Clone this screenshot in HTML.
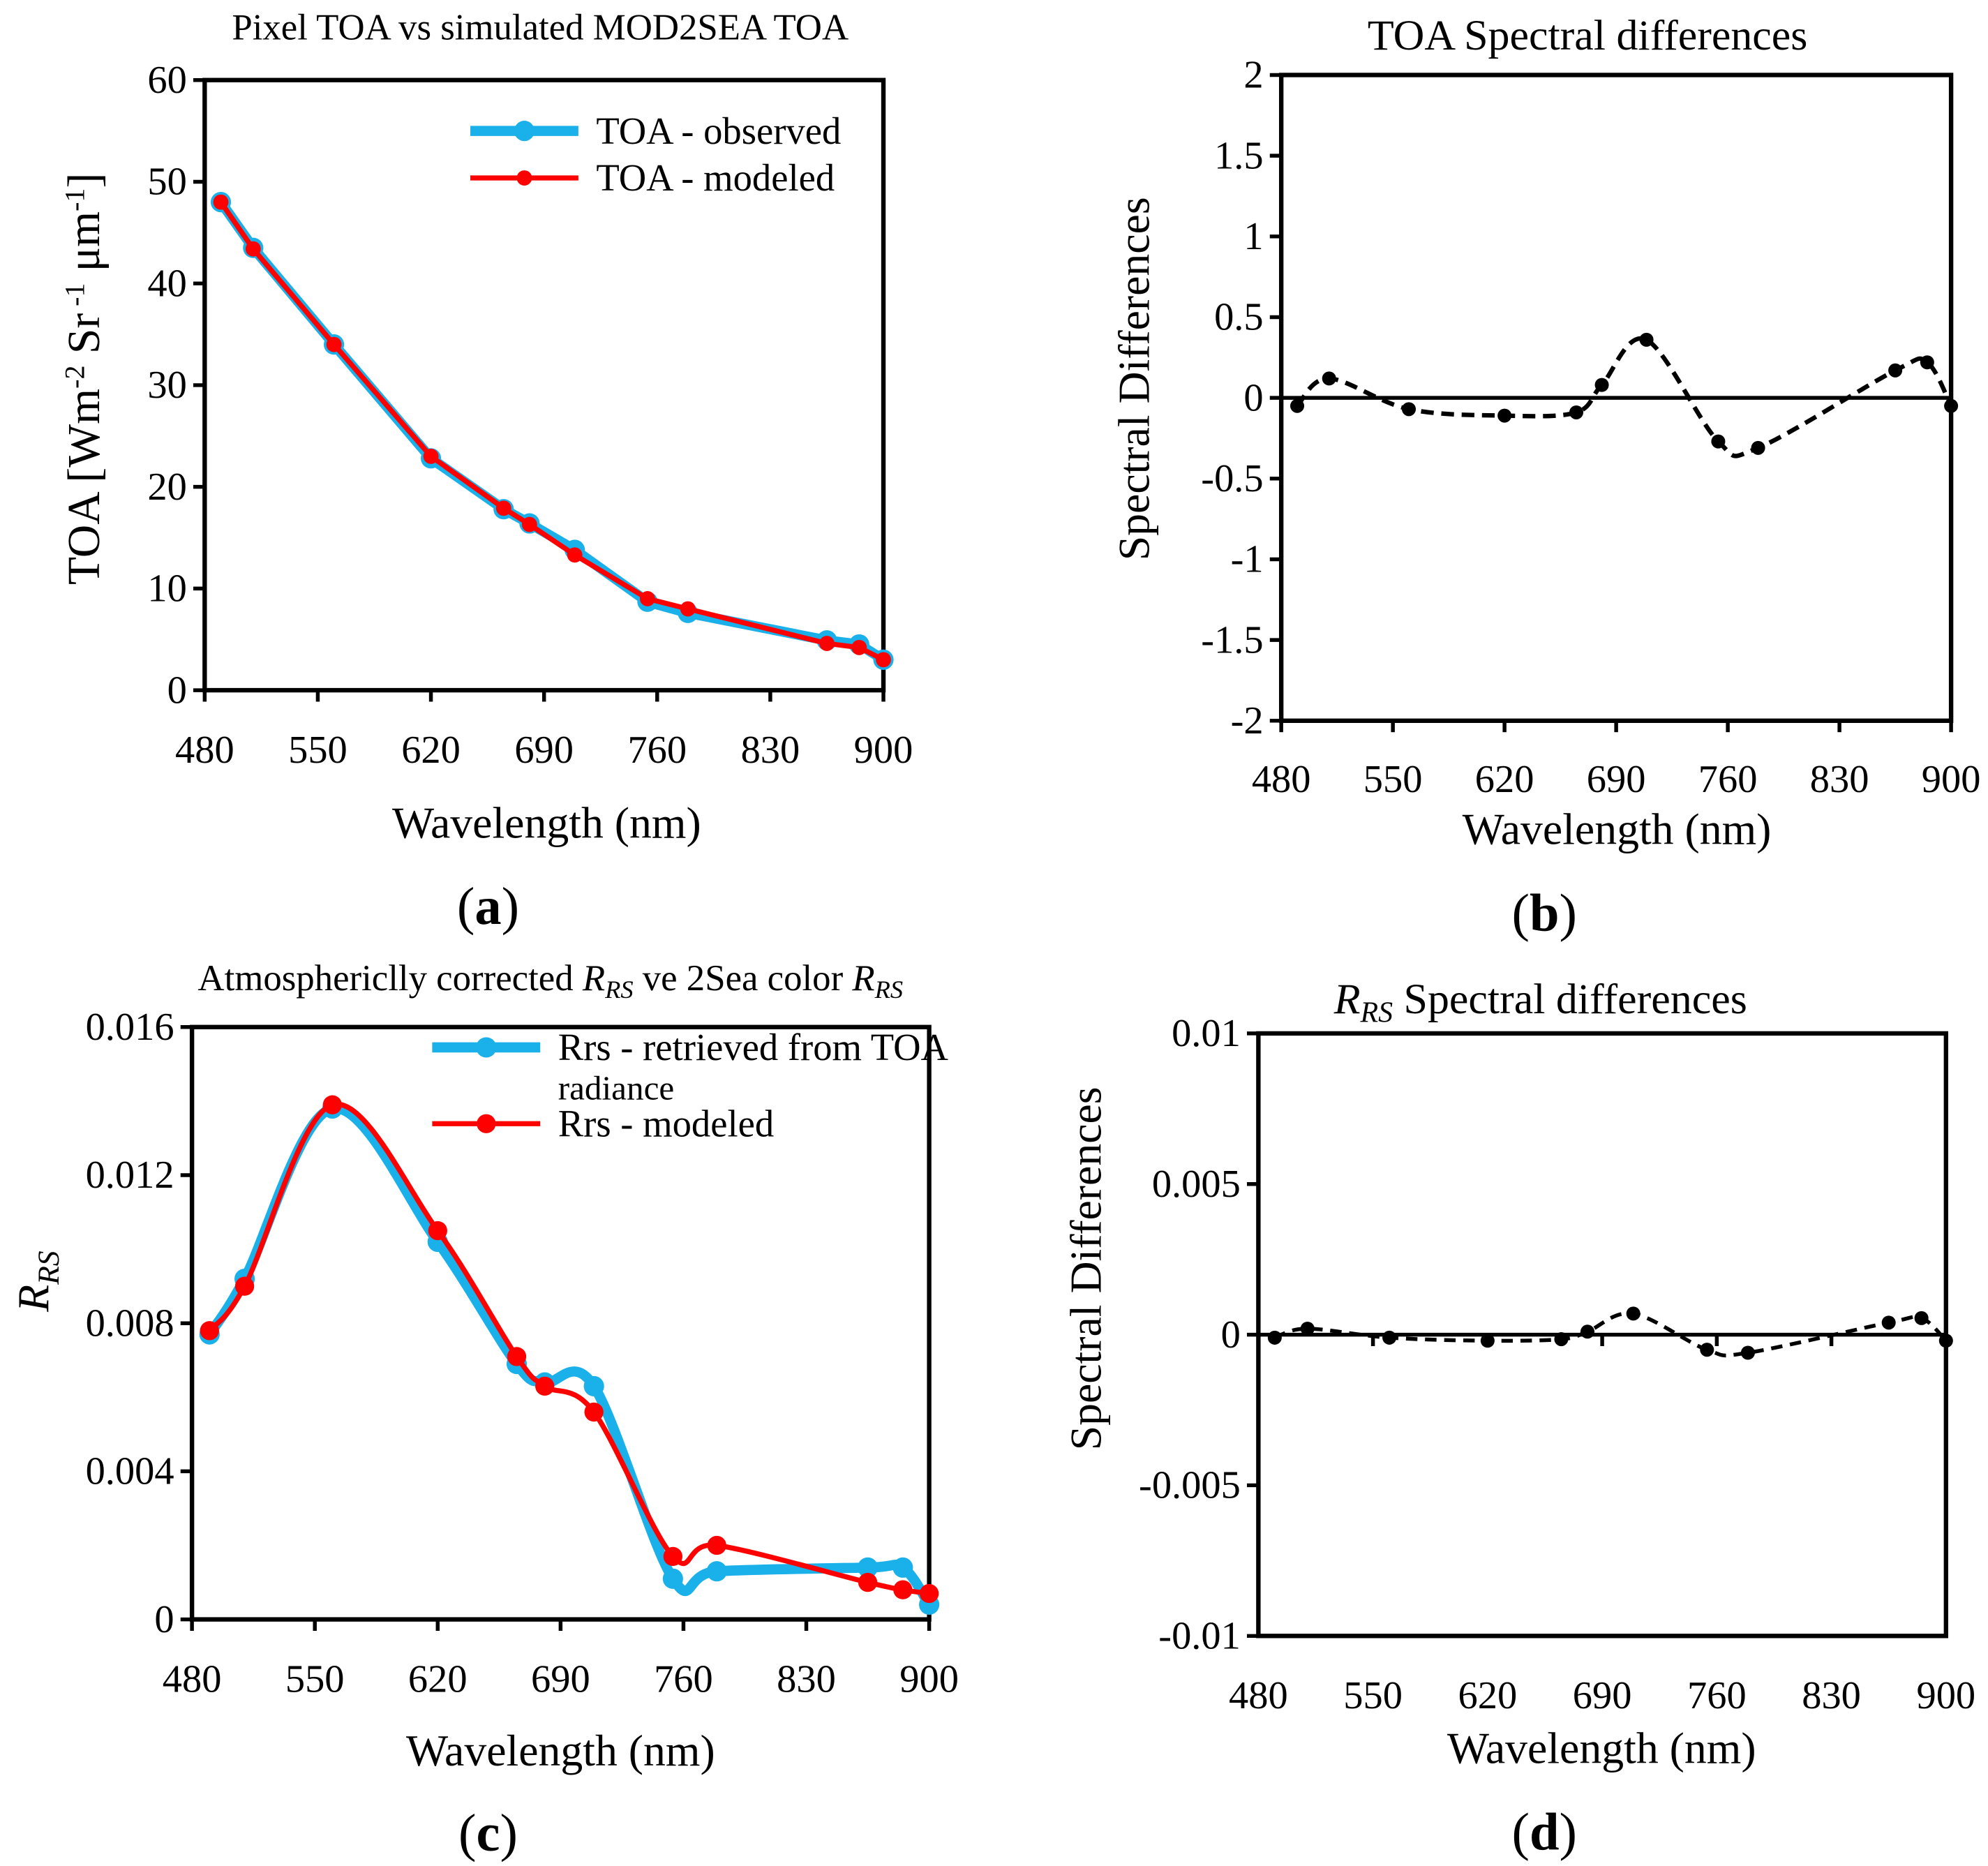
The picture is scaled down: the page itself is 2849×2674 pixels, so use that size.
<!DOCTYPE html>
<html><head><meta charset="utf-8"><style>
html,body{margin:0;padding:0;background:#fff}
svg{display:block}
text{font-family:"Liberation Serif",serif;fill:#000}
</style></head><body>
<svg id="fig" width="2849" height="2674" viewBox="0 0 1564 1468" xmlns="http://www.w3.org/2000/svg">
<g id="pa"></g>
<g id="pb"></g>
<g id="pc"></g>
<g id="pd"></g>
</svg>
<script>
const wavelengths=[490,510,560,620,665,681,709,754,779,865,885,900];
const xTicks=[480,550,620,690,760,830,900];
const toaObserved=[48,43.5,34,22.8,17.8,16.4,13.8,8.7,7.6,4.9,4.5,3.0];
const toaModeled=[48,43.4,34,23,17.9,16.3,13.3,9,8,4.6,4.2,3.0];
const toaTicks=[0,10,20,30,40,50,60];
const toaDiff=[-0.05,0.12,-0.07,-0.11,-0.09,0.08,0.36,-0.27,-0.31,0.17,0.22,-0.05];
const toaDiffTicks=[-2,-1.5,-1,-0.5,0,0.5,1,1.5,2];
const rrsObserved=[0.0077,0.0092,0.0138,0.0102,0.0069,0.0064,0.0063,0.0011,0.0013,0.0014,0.0014,0.0004];
const rrsModeled=[0.0078,0.0090,0.0139,0.0105,0.0071,0.0063,0.0056,0.0017,0.0020,0.0010,0.0008,0.0007];
const rrsTicks=[0,0.004,0.008,0.012,0.016];
const rrsDiff=[-0.0001,0.0002,-0.0001,-0.0002,-0.00015,0.0001,0.0007,-0.0005,-0.0006,0.0004,0.00055,-0.0002];
const rrsDiffTicks=[-0.01,-0.005,0,0.005,0.01];

const NS="http://www.w3.org/2000/svg";
function mk(parent,tag,attrs,txt){const e=document.createElementNS(NS,tag);for(const k in attrs)e.setAttribute(k,attrs[k]);if(txt!==undefined)e.textContent=txt;parent.appendChild(e);return e;}
function smooth(pts){let d="M"+pts[0][0]+","+pts[0][1];for(let i=0;i<pts.length-1;i++){const p0=pts[Math.max(i-1,0)],p1=pts[i],p2=pts[i+1],p3=pts[Math.min(i+2,pts.length-1)];const c1=[p1[0]+(p2[0]-p0[0])/6,p1[1]+(p2[1]-p0[1])/6],c2=[p2[0]-(p3[0]-p1[0])/6,p2[1]-(p3[1]-p1[1])/6];d+=" C"+c1[0]+","+c1[1]+" "+c2[0]+","+c2[1]+" "+p2[0]+","+p2[1];}return d;}
function lin(pts){return "M"+pts.map(p=>p[0]+","+p[1]).join(" L");}

function chart(g,o){
  const sx=v=>o.l+(v-480)/(900-480)*(o.r-o.l);
  const sy=v=>o.b-(v-o.ymin)/(o.ymax-o.ymin)*(o.b-o.t);
  const fmt=o.fmt||(v=>String(v));
  o.yticks.forEach(v=>{
    const y=sy(v);
    let e=mk(g,"line",{x1:o.l-9,x2:o.l,y1:y,y2:y,stroke:"#000","stroke-width":3});
    
    
    e=mk(g,"text",{x:o.l-14,y:y+10,"font-size":31,"text-anchor":"end"},fmt(v));
    
    
  });
  const tickY=o.zeroTicks?sy(0):o.b;
  xTicks.forEach(v=>{
    const x=sx(v);
    let e=mk(g,"line",{x1:x,x2:x,y1:tickY,y2:tickY+9,stroke:"#000","stroke-width":3});
    
    
    e=mk(g,"text",{x:x,y:o.xlabY,"font-size":31,"text-anchor":"middle"},String(v));
    
    
  });
  let fr=mk(g,"rect",{x:o.l,y:o.t,width:o.r-o.l,height:o.b-o.t,fill:"none",stroke:"#000","stroke-width":3.5});
  
  
  if(o.zeroLine){
    const z=mk(g,"line",{x1:o.l,x2:o.r,y1:sy(0),y2:sy(0),stroke:"#000","stroke-width":3});
    
    
  }
  o.series.forEach(s=>{
    const pts=wavelengths.map((w,i)=>[sx(w),sy(s.vals[i])]);
    const p=mk(g,"path",{d:s.smooth?smooth(pts):lin(pts),fill:"none",stroke:s.color,"stroke-width":s.w,"stroke-dasharray":s.dash||"none","stroke-linejoin":"round"});
    
    
    pts.forEach(q=>{
      const c=mk(g,"circle",{cx:q[0],cy:q[1],r:s.r,fill:s.color});
      
      
    });
  });
}

chart(document.getElementById("pa"),{l:161,r:695,t:63,b:543,ymin:0,ymax:60,yticks:toaTicks,xlabY:600,
  series:[{name:"toa-observed",vals:toaObserved,color:"#1ab0ea",w:8,r:8},{name:"toa-modeled",vals:toaModeled,color:"#ff0000",w:4,r:6}]});
chart(document.getElementById("pb"),{l:1008,r:1535,t:59,b:567,ymin:-2,ymax:2,yticks:toaDiffTicks,xlabY:623,zeroLine:true,
  series:[{name:"toa-difference",vals:toaDiff,color:"#000",w:3.5,r:5.5,dash:"10,6",smooth:true}]});
chart(document.getElementById("pc"),{l:151,r:731,t:808,b:1274,ymin:0,ymax:0.016,yticks:rrsTicks,xlabY:1331,fmt:v=>v===0?"0":v.toFixed(3),
  series:[{name:"rrs-retrieved",vals:rrsObserved,color:"#1ab0ea",w:8,r:8,smooth:true},{name:"rrs-modeled",vals:rrsModeled,color:"#ff0000",w:4,r:7.5,smooth:true}]});
chart(document.getElementById("pd"),{l:990,r:1531,t:813,b:1287,ymin:-0.01,ymax:0.01,yticks:rrsDiffTicks,xlabY:1344,zeroLine:true,zeroTicks:true,fmt:v=>v===0?"0":String(v),
  series:[{name:"rrs-difference",vals:rrsDiff,color:"#000",w:3,r:5.5,dash:"9,6",smooth:true}]});
</script>
<script>
const f=document.getElementById("fig");
function T(x,y,s,txt,name,extra){const e=mk(f,"text",Object.assign({x:x,y:y,"font-size":s,"text-anchor":"middle"},extra||{}));e.innerHTML=txt;return e;}
T(425,31,29,"Pixel TOA vs simulated MOD2SEA TOA","title-a");
T(1249,39,34,"TOA Spectral differences","title-b");
T(433,779,29,'Atmosphericlly corrected <tspan font-style="italic">R</tspan><tspan font-style="italic" font-size="20" dy="6">RS</tspan><tspan dy="-6"> ve 2Sea color </tspan><tspan font-style="italic">R</tspan><tspan font-style="italic" font-size="20" dy="6">RS</tspan>',"title-c");
T(1212,797,34,'<tspan font-style="italic">R</tspan><tspan font-style="italic" font-size="23" dy="7">RS</tspan><tspan dy="-7"> Spectral differences</tspan>',"title-d");
T(430,659,35,"Wavelength (nm)","x-axis-title-a");
T(1272,664,35,"Wavelength (nm)","x-axis-title-b");
T(441,1389,35,"Wavelength (nm)","x-axis-title-c");
T(1260,1387,35,"Wavelength (nm)","x-axis-title-d");
T(384,727,42,'(<tspan font-weight="bold">a</tspan>)',"panel-label-a");
T(1215,732,42,'(<tspan font-weight="bold">b</tspan>)',"panel-label-b");
T(384,1456,42,'(<tspan font-weight="bold">c</tspan>)',"panel-label-c");
T(1215,1455,42,'(<tspan font-weight="bold">d</tspan>)',"panel-label-d");
T(0,0,36,'TOA [Wm<tspan font-size="22" dy="-12">-2</tspan><tspan dy="12"> Sr</tspan><tspan font-size="22" dy="-12"> -1</tspan><tspan dy="12"> μm</tspan><tspan font-size="22" dy="-12">-1</tspan><tspan dy="12">]</tspan>',"y-axis-title-a",{transform:"translate(78,298) rotate(-90)"});
T(0,0,35,"Spectral Differences","y-axis-title-b",{transform:"translate(904,298) rotate(-90)"});
T(0,0,35,'<tspan font-style="italic">R</tspan><tspan font-style="italic" font-size="24" dy="8">RS</tspan>',"y-axis-title-c",{transform:"translate(38,1008) rotate(-90)"});
T(0,0,35,"Spectral Differences","y-axis-title-d",{transform:"translate(866,998) rotate(-90)"});
function L(x1,x2,y,c,w,r,name,txt){
  const g=mk(f,"g",{});
  mk(g,"line",{x1:x1,x2:x2,y1:y,y2:y,stroke:c,"stroke-width":w});
  mk(g,"circle",{cx:(x1+x2)/2,cy:y,r:r,fill:c});
  mk(g,"text",{x:x2+14,y:y+10,"font-size":30},txt);
}
L(370,455,103,"#1ab0ea",8,8,"legend-toa-observed","TOA - observed");
L(370,455,140,"#ff0000",4,6,"legend-toa-modeled","TOA - modeled");
L(340,425,824,"#1ab0ea",8,8,"legend-rrs-retrieved","Rrs - retrieved from TOA");
T(439,865,27,"radiance","legend-rrs-retrieved-cont",{"text-anchor":"start"});
L(340,425,884,"#ff0000",4,7.5,"legend-rrs-modeled","Rrs - modeled");
</script>
</body></html>
